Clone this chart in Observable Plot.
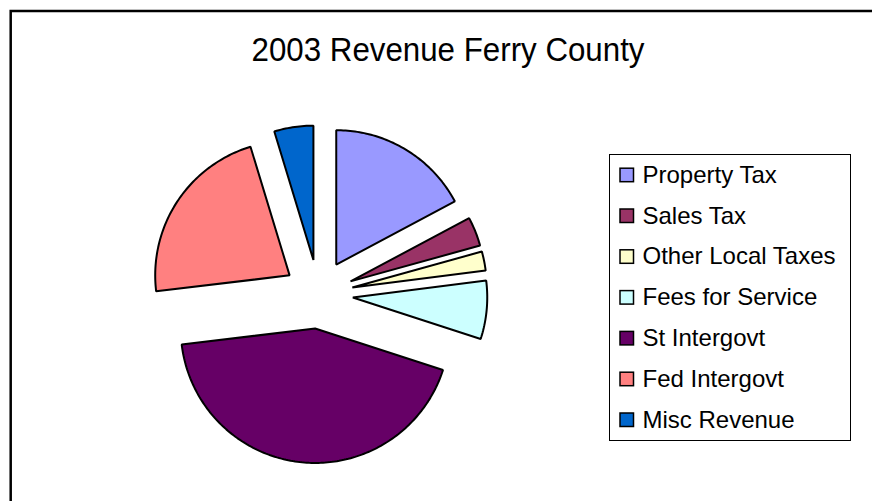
<!DOCTYPE html>
<html>
<head>
<meta charset="utf-8">
<script src="https://cdn.jsdelivr.net/npm/d3@7"></script>
<script src="https://cdn.jsdelivr.net/npm/@observablehq/plot@0.6"></script>
<style>
  html, body { margin: 0; padding: 0; background: #fff; }
  #chart { width: 872px; height: 501px; overflow: hidden; position: relative; }
  svg { display: block; font-family: "Liberation Sans", Arial, sans-serif; }
</style>
</head>
<body>
<div id="chart"></div>
<script>
const title = "2003 Revenue Ferry County";
const categories = ["Property Tax", "Sales Tax", "Other Local Taxes", "Fees for Service", "St Intergovt", "Fed Intergovt", "Misc Revenue"];
const shares = [17.2, 3.5, 2.3, 7.0, 43.1, 22.2, 4.7];
const colors = ["#9999FF", "#993366", "#FFFFCC", "#CCFFFF", "#660066", "#FF8080", "#0066CC"];

// layout (pixels)
const cx = 318, cy = 293.7, R = 134.4, explode = 34.5 / 134.4;

const arcs = d3.pie().sort(null).value(d => d.value).startAngle(0).endAngle(2 * Math.PI)(
  categories.map((name, i) => ({name, value: shares[i]}))
);

const pts = [];
for (const a of arcs) {
  const mid = (a.startAngle + a.endAngle) / 2;
  const ox = explode * Math.sin(mid), oy = explode * Math.cos(mid);
  pts.push({name: a.data.name, x: ox, y: oy});
  const n = Math.max(4, Math.ceil((a.endAngle - a.startAngle) / (Math.PI / 180)));
  for (let k = 0; k <= n; k++) {
    const t = a.startAngle + (a.endAngle - a.startAngle) * k / n;
    pts.push({name: a.data.name, x: ox + Math.sin(t), y: oy + Math.cos(t)});
  }
}

const plot = Plot.plot({
  width: 872,
  height: 501,
  margin: 0,
  x: {domain: [-1, 1], range: [cx - R, cx + R], axis: null},
  y: {domain: [-1, 1], range: [cy + R, cy - R], axis: null},
  color: {domain: categories, range: colors},
  marks: [
    Plot.line(pts, {x: "x", y: "y", z: "name", fill: "name", stroke: "black", strokeWidth: 2, curve: "linear-closed", strokeLinejoin: "miter"})
  ]
});

const svg = d3.select(plot);
svg.append("rect").attr("x", 10.7).attr("y", 11).attr("width", 1000).attr("height", 1000)
  .attr("fill", "none").attr("stroke", "black").attr("stroke-width", 2.5);
svg.append("text").attr("x", 448).attr("y", 61).attr("text-anchor", "middle")
  .attr("font-size", 34).attr("fill", "black")
  .attr("textLength", 393).attr("lengthAdjust", "spacingAndGlyphs").text(title);

const lg = svg.append("g").attr("text-anchor", "start");
lg.append("rect").attr("x", 609.5).attr("y", 154.5).attr("width", 241).attr("height", 286)
  .attr("fill", "white").attr("stroke", "black").attr("stroke-width", 1);
categories.forEach((c, i) => {
  const by = 182.7 + 40.8 * i;
  lg.append("rect").attr("x", 620).attr("y", by - 14.5).attr("width", 13.5).attr("height", 13.5)
    .attr("fill", colors[i]).attr("stroke", "black").attr("stroke-width", 1.5);
  lg.append("text").attr("x", 642.5).attr("y", by).attr("font-size", 24)
    .attr("text-anchor", "start").attr("fill", "black").text(c);
});

document.getElementById("chart").appendChild(plot);
</script>
</body>
</html>
